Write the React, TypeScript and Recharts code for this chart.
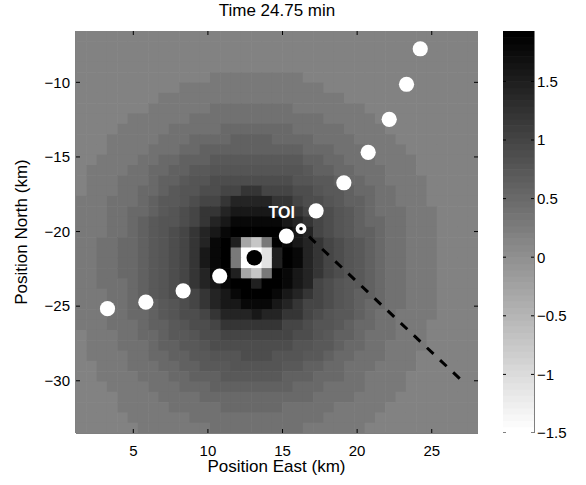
import React from 'react';
import { ScatterChart, Scatter, XAxis, YAxis } from 'recharts';

const FONT = '"Liberation Sans", Arial, Helvetica, sans-serif';

// ---- Field (39 x 39 cells, row 0 = north edge) ----
// Run-length tokens: first char = level, following digits = repeat count.
// level value = LEVEL_BASE + LEVEL_STEP * index of char in LEVELS
const LEVELS = '0123456789abcdefghijklmnopqrstuvwxy';
const LEVEL_BASE = -1.5;
const LEVEL_STEP = 0.1;

const fieldRows: string[] = [
  'h39',
  'h39',
  'h39',
  'h39',
  'h13 i9 h17',
  'h10 i14 h15',
  'h8 i18 h13',
  'h7 i6 j8 i7 h11',
  'h5 i6 j13 i5 h10',
  'h4 i5 j5 k7 j5 i4 h9',
  'h3 i5 j3 k4 l4 k4 j4 i4 h8',
  'h3 i4 j3 k2 l10 k3 j3 i4 h7',
  'h2 i4 j2 k2 l3 m9 l2 k2 j3 i4 h6',
  'h i4 j2 k2 l2 m2 n9 m l2 k2 j3 i3 h6',
  'h i3 j3 k l2 m n2 o8 n2 m2 l k2 j2 i4 h5',
  'h i3 j2 k2 l m n2 o2 p2 r2 p3 o2 n m2 l k2 j2 i3 h5',
  'i3 j3 k l m2 n o p2 r t4 r2 p o2 n m l2 k j2 i3 h5',
  'i3 j2 k2 l m n o p r2 t v4 t2 r p o2 n m l k j3 i3 h4',
  'i3 j2 k l m n2 o p r t v x5 v t r p o n m l k2 j2 i3 h4',
  'i3 j2 k l m n o p r t v x y5 x v t p o n m l2 k j2 i3 h4',
  'i2 j2 k2 l m n o p r t x y u c 8 i y x v t r p o n m l k j2 i3 h4',
  'i2 j2 k2 l m n o p r v x y i 02 4 u y x t r p o n m l k j2 i3 h4',
  'i2 j2 k2 l m n o p r v x y i 02 4 u y x t r p o n m l k j2 i3 h4',
  'i2 j2 k2 l m n o p r t x y u c 8 i y x v t r p o n m l k j2 i3 h4',
  'i2 j3 k l m n o p r t v x y2 u y2 x v t p o n m2 l k j2 i3 h4',
  'i3 j2 k l m n o2 p r t v x y3 x v t r p o n m l2 k j2 i3 h4',
  'i3 j2 k l2 m n o p r t v2 x3 v t r p2 o n m l k2 j2 i3 h4',
  'i3 j2 k2 l m n o2 p r t3 v t2 r2 p o n m2 l k j2 i4 h4',
  'i3 j3 k l2 m n o2 p r6 p2 o n2 m l k2 j2 i3 h5',
  'h i3 j2 k2 l m2 n o2 p7 o2 n m l2 k j3 i3 h5',
  'h i3 j3 k l2 m2 n o8 n2 m2 l k2 j2 i4 h5',
  'h i4 j2 k2 l2 m2 n3 o3 n3 m2 l k2 j3 i3 h6',
  'h2 i3 j3 k2 l2 m3 n5 m2 l2 k2 j3 i4 h6',
  'h2 i4 j3 k2 l3 m6 l3 k3 j2 i4 h7',
  'h3 i4 j3 k3 l8 k3 j4 i4 h7',
  'h4 i4 j4 k11 j4 i4 h8',
  'h4 i5 j5 k6 j5 i5 h9',
  'h5 i6 j13 i5 h10',
  'h6 i7 j9 i6 h11',
];

// ---- Axes ----
const eastRange: [number, number] = [1.16, 28.1];
const northRange: [number, number] = [-33.5, -6.56];
const eastTicks = [5, 10, 15, 20, 25];
const northTicks = [-30, -25, -20, -15, -10];
const colorRange: [number, number] = [-1.5, 1.93];
const colorTicks = [-1.5, -1, -0.5, 0, 0.5, 1, 1.5];

// ---- Markers ----
const trackEast = [3.27, 5.84, 8.34, 10.79, 15.26, 17.25, 19.11, 20.74, 22.15, 23.31, 24.23];
const trackNorth = [-25.17, -24.73, -23.97, -22.98, -20.3, -18.61, -16.73, -14.69, -12.48, -10.13, -7.75];
const targetEast = [13.11];
const targetNorth = [-21.76];
const toiEast = [16.24];
const toiNorth = [-19.81];
const toiLabels = ['TOI'];
const headingEast = [16.78, 26.91];
const headingNorth = [-20.34, -29.89];

const titleText = 'Time 24.75 min';
const xLabelText = 'Position East (km)';
const yLabelText = 'Position North (km)';

// ---- Layout ----
const W = 586;
const H = 485;
const PLOT_W = 402;
const PLOT_H = 402;
const CB_W = 31;
const CB_AXIS_W = 45;
const TICK_LEN = 4;
const CB_TICK_LEN = 3;

function decodeRow(row: string): number[] {
  const out: number[] = [];
  for (const tok of row.trim().split(/\s+/)) {
    const lvl = LEVELS.indexOf(tok[0]);
    const n = tok.length > 1 ? parseInt(tok.slice(1), 10) : 1;
    for (let i = 0; i < n; i++) out.push(LEVEL_BASE + LEVEL_STEP * lvl);
  }
  return out;
}

const field = fieldRows.map(decodeRow);
const nRows = field.length;
const nCols = field[0].length;
const cellE = (eastRange[1] - eastRange[0]) / nCols;
const cellN = (northRange[1] - northRange[0]) / nRows;
const cells = field.flatMap((row, r) =>
  row.map((v, c) => ({
    east: eastRange[0] + cellE * (c + 0.5),
    north: northRange[1] - cellN * (r + 0.5),
    v,
  }))
);
const CELL_W = PLOT_W / nCols;
const CELL_H = PLOT_H / nRows;

const track = trackEast.map((e, i) => ({ east: e, north: trackNorth[i] }));
const target = targetEast.map((e, i) => ({ east: e, north: targetNorth[i] }));
const toi = toiEast.map((e, i) => ({ east: e, north: toiNorth[i], label: toiLabels[i] }));
const heading = headingEast.map((e, i) => ({ east: e, north: headingNorth[i] }));

// inward tick marks on all four sides of the frame
const frameTicks = [
  ...eastTicks.map((e) => ({ east: e, north: northRange[0], dx: 0, dy: -1 })),
  ...eastTicks.map((e) => ({ east: e, north: northRange[1], dx: 0, dy: 1 })),
  ...northTicks.map((n) => ({ east: eastRange[0], north: n, dx: 1, dy: 0 })),
  ...northTicks.map((n) => ({ east: eastRange[1], north: n, dx: -1, dy: 0 })),
];

const N_COLORS = 64;
const colorLevels = Array.from({ length: N_COLORS }, (_, i) => ({
  x: 0.5,
  v: colorRange[0] + ((i + 0.5) * (colorRange[1] - colorRange[0])) / N_COLORS,
}));
const cbTicks = [
  ...colorTicks.map((v) => ({ x: 0, v, dx: 1 })),
  ...colorTicks.map((v) => ({ x: 1, v, dx: -1 })),
];

function gray(v: number): string {
  const t = (v - colorRange[0]) / (colorRange[1] - colorRange[0]);
  const i = Math.max(0, Math.min(N_COLORS - 1, Math.floor(t * N_COLORS)));
  const g = Math.round(255 * (1 - i / (N_COLORS - 1)));
  return `rgb(${g},${g},${g})`;
}

const fmt = (v: number) => String(v).replace('-', '\u2212');

const CellShape = (p: any) => (
  <rect
    x={p.cx - CELL_W / 2}
    y={p.cy - CELL_H / 2}
    width={CELL_W + 0.6}
    height={CELL_H + 0.6}
    fill={gray(p.payload.v)}
  />
);
const WhiteDot = (p: any) => <circle cx={p.cx} cy={p.cy} r={7.6} fill="#fff" />;
const BlackDot = (p: any) => <circle cx={p.cx} cy={p.cy} r={7.8} fill="#000" />;
const ToiShape = (p: any) => (
  <g>
    <circle cx={p.cx} cy={p.cy} r={3.6} fill="#000" stroke="#fff" strokeWidth={3.6} />
    <text
      x={p.cx - 19.3}
      y={p.cy - 10.4}
      textAnchor="middle"
      fill="#fff"
      fontWeight="bold"
      fontSize={16}
      fontFamily={FONT}
    >
      {p.payload.label}
    </text>
  </g>
);
const NoShape = () => <g />;
const FrameTick = (p: any) => (
  <line
    x1={p.cx}
    y1={p.cy}
    x2={p.cx + p.payload.dx * TICK_LEN}
    y2={p.cy + p.payload.dy * TICK_LEN}
    stroke="#000"
    strokeWidth={1}
  />
);
const CbTick = (p: any) => (
  <line x1={p.cx} y1={p.cy} x2={p.cx + p.payload.dx * CB_TICK_LEN} y2={p.cy} stroke="#000" strokeWidth={1} />
);
const CbCell = (p: any) => (
  <rect
    x={p.cx - CB_W / 2}
    y={p.cy - PLOT_H / N_COLORS / 2}
    width={CB_W}
    height={PLOT_H / N_COLORS + 0.6}
    fill={gray(p.payload.v)}
  />
);

const tickStyle = { fontSize: 15, fill: '#000', fontFamily: FONT };
const axisLine = { stroke: '#000', strokeWidth: 1 };

const textBase: React.CSSProperties = {
  position: 'absolute',
  fontFamily: FONT,
  fontSize: 17,
  lineHeight: '20px',
  height: 20,
  textAlign: 'center',
  whiteSpace: 'nowrap',
  color: '#000',
};

export default function App() {
  return (
    <div style={{ position: 'absolute', left: 0, top: 0, width: W, height: H, background: '#fff' }}>
      <div style={{ position: 'absolute', left: 0, top: 0 }}>
        <ScatterChart width={W} height={H} margin={{ top: 31, right: 108, bottom: 22, left: 26 }}>
          <Scatter data={cells} dataKey="north" shape={CellShape} isAnimationActive={false} />
          <Scatter
            data={heading}
            dataKey="north"
            shape={NoShape}
            line={{ stroke: '#000', strokeWidth: 3, strokeDasharray: '9 9' }}
            isAnimationActive={false}
          />
          <Scatter data={track} dataKey="north" shape={WhiteDot} isAnimationActive={false} />
          <Scatter data={target} dataKey="north" shape={BlackDot} isAnimationActive={false} />
          <Scatter data={toi} dataKey="north" shape={ToiShape} isAnimationActive={false} />
          <Scatter data={frameTicks} dataKey="north" shape={FrameTick} isAnimationActive={false} />
          <XAxis
            type="number"
            dataKey="east"
            domain={eastRange}
            ticks={eastTicks}
            allowDataOverflow
            height={30}
            tickSize={-4}
            tickMargin={16}
            tick={tickStyle}
            axisLine={axisLine}
            tickLine={false}
          />
          <XAxis
            xAxisId="top"
            orientation="top"
            type="number"
            dataKey="east"
            domain={eastRange}
            ticks={eastTicks}
            allowDataOverflow
            height={0}
            tick={false}
            axisLine={axisLine}
            tickLine={false}
          />
          <YAxis
            type="number"
            dataKey="north"
            domain={northRange}
            ticks={northTicks}
            allowDataOverflow
            width={50}
            tickSize={-4}
            tickMargin={10}
            tickFormatter={fmt}
            tick={tickStyle}
            axisLine={axisLine}
            tickLine={false}
          />
          <YAxis
            yAxisId="right"
            orientation="right"
            type="number"
            dataKey="north"
            domain={northRange}
            ticks={northTicks}
            allowDataOverflow
            width={0}
            tick={false}
            axisLine={axisLine}
            tickLine={false}
          />
        </ScatterChart>
      </div>
      <div style={{ position: 'absolute', left: 503, top: 0 }}>
        <ScatterChart width={CB_W + CB_AXIS_W} height={H} margin={{ top: 31, right: 0, bottom: 52, left: 0 }}>
          <Scatter data={colorLevels} dataKey="v" yAxisId="r" shape={CbCell} isAnimationActive={false} />
          <Scatter data={cbTicks} dataKey="v" yAxisId="r" shape={CbTick} isAnimationActive={false} />
          <XAxis type="number" dataKey="x" domain={[0, 1]} height={0} tick={false} tickLine={false} axisLine={axisLine} />
          <XAxis
            xAxisId="t"
            orientation="top"
            type="number"
            dataKey="x"
            domain={[0, 1]}
            height={0}
            tick={false}
            tickLine={false}
            axisLine={axisLine}
          />
          <YAxis
            yAxisId="l"
            orientation="left"
            type="number"
            dataKey="v"
            domain={colorRange}
            ticks={colorTicks}
            allowDataOverflow
            width={0}
            tick={false}
            axisLine={axisLine}
            tickLine={false}
          />
          <YAxis
            yAxisId="r"
            orientation="right"
            type="number"
            dataKey="v"
            domain={colorRange}
            ticks={colorTicks}
            allowDataOverflow
            width={CB_AXIS_W}
            tickSize={-3}
            tickMargin={6}
            tickFormatter={fmt}
            tick={{ ...tickStyle, textAnchor: 'start' }}
            axisLine={axisLine}
            tickLine={false}
          />
        </ScatterChart>
      </div>
      <div style={{ ...textBase, left: 127, top: 1, width: 300 }}>{titleText}</div>
      <div style={{ ...textBase, left: 126.5, top: 457, width: 300 }}>{xLabelText}</div>
      <div style={{ ...textBase, left: 22 - 110, top: 232 - 10, width: 220, transform: 'rotate(-90deg)' }}>
        {yLabelText}
      </div>
    </div>
  );
}
